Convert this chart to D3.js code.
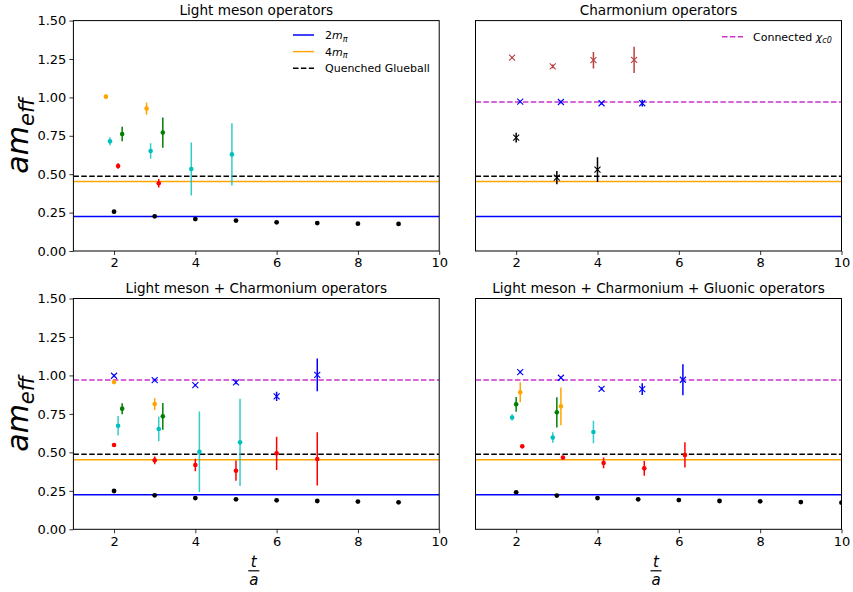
<!DOCTYPE html>
<html><head><meta charset="utf-8">
<script src="https://cdn.jsdelivr.net/npm/d3@7"></script>
<style>body{margin:0;background:#fff}svg{display:block}text{font-family:"DejaVu Sans",sans-serif}</style>
</head><body><svg id="c" width="853" height="592"></svg>
<script>
// ---- reference levels ----
const refKeys = ["twoMpi", "fourMpi", "glueball", "chic0"];
const refLevels = [0.224, 0.452, 0.487, 0.970];
const refColors = ["#0000ff", "#ffa500", "#000000", "#cc33cc"];

const panelTitles = ["Light meson operators", "Charmonium operators",
  "Light meson + Charmonium operators", "Light meson + Charmonium + Gluonic operators"];
const xTicks = [2, 4, 6, 8, 10];
const yTicks = [0.00, 0.25, 0.50, 0.75, 1.00, 1.25, 1.50];

// ---- Panel 1: Light meson operators ----
const p1BlackT = [2, 3, 4, 5, 6, 7, 8, 9];
const p1BlackY = [0.256, 0.226, 0.208, 0.198, 0.187, 0.182, 0.178, 0.176];
const p1OrangeT = [1.8, 2.8], p1OrangeY = [1.005, 0.927], p1OrangeE = [0.012, 0.040];
const p1CyanT = [1.9, 2.9, 3.9, 4.9], p1CyanY = [0.714, 0.651, 0.534, 0.629], p1CyanE = [0.026, 0.050, 0.173, 0.203];
const p1GreenT = [2.2, 3.2], p1GreenY = [0.762, 0.771], p1GreenE = [0.047, 0.098];
const p1RedT = [2.1, 3.1], p1RedY = [0.553, 0.441], p1RedE = [0.018, 0.027];

// ---- Panel 2: Charmonium operators ----
const p2BrownT = [1.9, 2.9, 3.9, 4.9], p2BrownY = [1.259, 1.202, 1.242, 1.244], p2BrownE = [0.006, 0.012, 0.054, 0.085];
const p2BlueT = [2.1, 3.1, 4.1, 5.1], p2BlueY = [0.972, 0.970, 0.962, 0.962], p2BlueE = [0.006, 0.008, 0.008, 0.022];
const p2BlackT = [2, 3, 4], p2BlackY = [0.738, 0.478, 0.530], p2BlackE = [0.032, 0.043, 0.080];

// ---- Panel 3: Light meson + Charmonium operators ----
const p3BlueT = [2, 3, 4, 5, 6, 7], p3BlueY = [0.998, 0.970, 0.937, 0.955, 0.864, 1.004], p3BlueE = [0.008, 0.008, 0.008, 0.012, 0.030, 0.106];
const p3OrangeT = [2, 3], p3OrangeY = [0.957, 0.814], p3OrangeE = [0.015, 0.038];
const p3GreenT = [2.2, 3.2], p3GreenY = [0.784, 0.734], p3GreenE = [0.036, 0.087];
const p3CyanT = [2.1, 3.1, 4.1, 5.1], p3CyanY = [0.673, 0.652, 0.504, 0.565], p3CyanE = [0.063, 0.079, 0.262, 0.284];
const p3RedT = [2, 3, 4, 5, 6, 7], p3RedY = [0.548, 0.448, 0.418, 0.381, 0.494, 0.457], p3RedE = [0.012, 0.025, 0.041, 0.066, 0.108, 0.173];
const p3BlackT = [2, 3, 4, 5, 6, 7, 8, 9];
const p3BlackY = [0.249, 0.221, 0.203, 0.195, 0.188, 0.184, 0.180, 0.175];

// ---- Panel 4: Light meson + Charmonium + Gluonic operators ----
const p4BlueT = [2.1, 3.1, 4.1, 5.1, 6.1], p4BlueY = [1.022, 0.985, 0.913, 0.911, 0.972], p4BlueE = [0.008, 0.008, 0.010, 0.038, 0.100];
const p4OrangeT = [2.1, 3.1], p4OrangeY = [0.890, 0.799], p4OrangeE = [0.065, 0.123];
const p4GreenT = [2.0, 3.0], p4GreenY = [0.812, 0.760], p4GreenE = [0.048, 0.099];
const p4CyanT = [1.9, 2.9, 3.9], p4CyanY = [0.727, 0.596, 0.632], p4CyanE = [0.020, 0.034, 0.073];
const p4RedT = [2.15, 3.15, 4.15, 5.15, 6.15], p4RedY = [0.539, 0.466, 0.431, 0.396, 0.483], p4RedE = [0.008, 0.012, 0.035, 0.048, 0.082];
const p4BlackT = [2, 3, 4, 5, 6, 7, 8, 9, 10];
const p4BlackY = [0.240, 0.219, 0.203, 0.195, 0.190, 0.184, 0.182, 0.177, 0.173];

const C = {orange: "#ffa500", cyan: "#00bfbf", green: "#008000", red: "#ff0000", blue: "#0000ff", brown: "#b84040", black: "#000000"};

function ser(t, y, e, color, marker) {
  return t.map((v, i) => ({t: v, y: y[i], e: e ? e[i] : 0, color, marker}));
}

const panels = [
  {box: [73.4, 439.2, 20.6, 251], refs: [0, 1, 2], legend: [0, 1, 2], yLabels: true,
   series: [ser(p1BlackT, p1BlackY, null, C.black, "o"), ser(p1OrangeT, p1OrangeY, p1OrangeE, C.orange, "."),
            ser(p1CyanT, p1CyanY, p1CyanE, C.cyan, "."), ser(p1GreenT, p1GreenY, p1GreenE, C.green, "."),
            ser(p1RedT, p1RedY, p1RedE, C.red, ".")]},
  {box: [475.5, 841.5, 20.6, 251], refs: [3, 0, 1, 2], legend: [3], yLabels: false,
   series: [ser(p2BrownT, p2BrownY, p2BrownE, C.brown, "x"), ser(p2BlueT, p2BlueY, p2BlueE, C.blue, "x"),
            ser(p2BlackT, p2BlackY, p2BlackE, C.black, "x")]},
  {box: [73.4, 439.2, 298.5, 529.3], refs: [3, 0, 1, 2], legend: [], yLabels: true, xLabel: true,
   series: [ser(p3BlackT, p3BlackY, null, C.black, "o"), ser(p3BlueT, p3BlueY, p3BlueE, C.blue, "x"),
            ser(p3OrangeT, p3OrangeY, p3OrangeE, C.orange, "."), ser(p3GreenT, p3GreenY, p3GreenE, C.green, "."),
            ser(p3CyanT, p3CyanY, p3CyanE, C.cyan, "."), ser(p3RedT, p3RedY, p3RedE, C.red, ".")]},
  {box: [475.5, 841.5, 298.5, 529.3], refs: [3, 0, 1, 2], legend: [], yLabels: false, xLabel: true,
   series: [ser(p4BlackT, p4BlackY, null, C.black, "o"), ser(p4BlueT, p4BlueY, p4BlueE, C.blue, "x"),
            ser(p4OrangeT, p4OrangeY, p4OrangeE, C.orange, "."), ser(p4GreenT, p4GreenY, p4GreenE, C.green, "."),
            ser(p4CyanT, p4CyanY, p4CyanE, C.cyan, "."), ser(p4RedT, p4RedY, p4RedE, C.red, ".")]}
];

const svg = d3.select("#c");
const defs = svg.append("defs");

function refLabel(sel, k) {
  if (k === 0 || k === 1) {
    sel.append("tspan").text(k === 0 ? "2" : "4");
    sel.append("tspan").attr("font-style", "italic").text("m");
    sel.append("tspan").attr("font-style", "italic").attr("font-size", "8px").attr("dy", 2.5).text("π");
  } else if (k === 2) {
    sel.text("Quenched Glueball");
  } else {
    sel.append("tspan").text("Connected ");
    sel.append("tspan").attr("font-style", "italic").text("χ");
    sel.append("tspan").attr("font-style", "italic").attr("font-size", "8px").attr("dy", 2.5).text("c0");
  }
}
function dashFor(k) { return (k === 2 || k === 3) ? "5.5,2.4" : null; }

panels.forEach((p, pi) => {
  const [x0, x1, y0, y1] = p.box;
  const x = d3.scaleLinear().domain([1, 10]).range([x0, x1]);
  const y = d3.scaleLinear().domain([0, 1.5]).range([y1, y0]);
  const g = svg.append("g");
  const cid = "clip" + pi;
  defs.append("clipPath").attr("id", cid).append("rect")
    .attr("x", x0).attr("y", y0).attr("width", x1 - x0).attr("height", y1 - y0);
  const plot = g.append("g").attr("clip-path", `url(#${cid})`);

  // reference lines
  p.refs.forEach(k => {
    plot.append("line").attr("x1", x0).attr("x2", x1)
      .attr("y1", y(refLevels[k])).attr("y2", y(refLevels[k]))
      .attr("stroke", refColors[k]).attr("stroke-width", 1.5)
      .attr("stroke-dasharray", dashFor(k));
  });

  // series
  p.series.forEach(s => {
    s.forEach(d => {
      const cx = x(d.t), cy = y(d.y);
      if (d.e > 0) {
        plot.append("line").attr("x1", cx).attr("x2", cx)
          .attr("y1", y(d.y - d.e)).attr("y2", y(d.y + d.e))
          .attr("stroke", d.color).attr("stroke-width", 1.5)
          .attr("stroke-opacity", d.color === C.cyan ? 0.8 : 1);
      }
      if (d.marker === "x") {
        const r = 3;
        plot.append("path").attr("d", `M${cx - r},${cy - r}L${cx + r},${cy + r}M${cx - r},${cy + r}L${cx + r},${cy - r}`)
          .attr("stroke", d.color).attr("stroke-width", 1.1).attr("fill", "none");
      } else {
        plot.append("circle").attr("cx", cx).attr("cy", cy)
          .attr("r", d.marker === "o" ? 2.4 : 2.3).attr("fill", d.color);
      }
    });
  });

  // axes
  const xa = g.append("g").attr("transform", `translate(0,${y1})`)
    .call(d3.axisBottom(x).tickValues(xTicks).tickFormat(d3.format("d")).tickSizeOuter(0).tickSize(4).tickPadding(3));
  xa.select(".domain").remove();
  xa.selectAll("text").attr("font-size", "13px").attr("font-family", "DejaVu Sans").attr("fill", "#000");
  xa.selectAll("line").attr("stroke", "#000").attr("stroke-width", 0.8);

  if (p.yLabels) {
    const ya = g.append("g").attr("transform", `translate(${x0},0)`)
      .call(d3.axisLeft(y).tickValues(yTicks).tickFormat(d3.format(".2f")).tickSizeOuter(0).tickSize(4).tickPadding(3));
    ya.select(".domain").remove();
    ya.selectAll("text").attr("font-size", "13px").attr("font-family", "DejaVu Sans").attr("fill", "#000");
    ya.selectAll("line").attr("stroke", "#000").attr("stroke-width", 0.8);
  }

  // frame
  g.append("rect").attr("x", x0).attr("y", y0).attr("width", x1 - x0).attr("height", y1 - y0)
    .attr("fill", "none").attr("stroke", "#000").attr("stroke-width", 1);

  // title
  g.append("text").attr("x", (x0 + x1) / 2).attr("y", y0 - 6).attr("text-anchor", "middle")
    .attr("font-size", "13.6px").text(panelTitles[pi]);

  // legend
  if (p.legend.length) {
    const lx = pi === 0 ? 293 : 722, tx = pi === 0 ? 325 : 753;
    p.legend.forEach((k, i) => {
      const ly = (pi === 0 ? 35 : 36.7) + i * 16.6;
      g.append("line").attr("x1", lx).attr("x2", lx + 21).attr("y1", ly).attr("y2", ly)
        .attr("stroke", refColors[k]).attr("stroke-width", 1.5).attr("stroke-dasharray", dashFor(k));
      const t = g.append("text").attr("x", tx).attr("y", ly + 4).attr("font-size", "11px");
      refLabel(t, k);
    });
  }

  // y label
  if (p.yLabels) {
    const cy = (y0 + y1) / 2;
    const t = g.append("text").attr("transform", `translate(28,${cy}) rotate(-90)`)
      .attr("text-anchor", "middle").attr("font-size", "30px").attr("font-style", "italic");
    t.append("tspan").text("am");
    t.append("tspan").attr("font-size", "21px").attr("dy", 6).text("eff");
  }
  // x label (fraction t/a)
  if (p.xLabel) {
    const cx = (x0 + x1) / 2 - 2.5;
    g.append("text").attr("x", cx).attr("y", 567).attr("text-anchor", "middle")
      .attr("font-size", "15px").attr("font-style", "italic").text("t");
    g.append("line").attr("x1", cx - 5.5).attr("x2", cx + 5.5).attr("y1", 570.8).attr("y2", 570.8)
      .attr("stroke", "#000").attr("stroke-width", 1.2);
    g.append("text").attr("x", cx).attr("y", 585).attr("text-anchor", "middle")
      .attr("font-size", "15px").attr("font-style", "italic").text("a");
  }
});
</script></body></html>
